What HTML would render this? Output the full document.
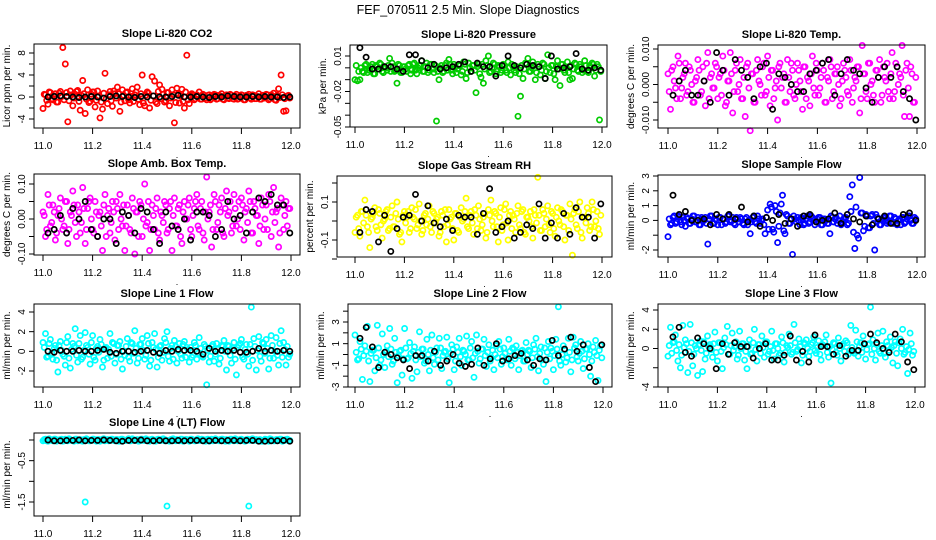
<!DOCTYPE html>
<html><head><meta charset="utf-8"><title>FEF_070511 2.5 Min. Slope Diagnostics</title>
<style>
html,body{margin:0;padding:0;background:#fff;}
svg{display:block;font-family:"Liberation Sans",Arial,sans-serif;}
</style></head>
<body>
<svg id="chart" width="936" height="540" viewBox="0 0 936 540" xmlns="http://www.w3.org/2000/svg">
<rect x="0" y="0" width="936" height="540" fill="#fff"/>
<text x="468" y="14" font-size="12.5" text-anchor="middle" fill="#000">FEF_070511  2.5 Min. Slope Diagnostics</text>
</svg>
<script>
// shared sample times (hours) for colored series
const times = [11.00,11.01,11.02,11.03,11.04,11.05,11.06,11.07,11.08,11.09,11.10,11.11,11.12,11.13,11.14,11.15,11.16,11.17,11.18,11.19,11.20,11.21,11.22,11.23,11.24,11.25,11.26,11.27,11.28,11.29,11.30,11.31,11.32,11.33,11.34,11.35,11.36,11.37,11.38,11.39,11.40,11.41,11.42,11.43,11.44,11.45,11.46,11.47,11.48,11.49,11.50,11.51,11.52,11.53,11.54,11.55,11.56,11.57,11.58,11.59,11.60,11.61,11.62,11.63,11.64,11.65,11.66,11.67,11.68,11.69,11.70,11.71,11.72,11.73,11.74,11.75,11.76,11.77,11.78,11.79,11.80,11.81,11.82,11.83,11.84,11.85,11.86,11.87,11.88,11.89,11.90,11.91,11.92,11.93,11.94,11.95,11.96,11.97,11.98,11.99];
// times for the dense core samples
const coreTimes = [11.005,11.015,11.025,11.035,11.045,11.055,11.065,11.075,11.085,11.095,11.105,11.115,11.125,11.135,11.145,11.155,11.165,11.175,11.185,11.195,11.205,11.215,11.225,11.235,11.245,11.255,11.265,11.275,11.285,11.295,11.305,11.315,11.325,11.335,11.345,11.355,11.365,11.375,11.385,11.395,11.405,11.415,11.425,11.435,11.445,11.455,11.465,11.475,11.485,11.495,11.505,11.515,11.525,11.535,11.545,11.555,11.565,11.575,11.585,11.595,11.605,11.615,11.625,11.635,11.645,11.655,11.665,11.675,11.685,11.695,11.705,11.715,11.725,11.735,11.745,11.755,11.765,11.775,11.785,11.795,11.805,11.815,11.825,11.835,11.845,11.855,11.865,11.875,11.885,11.895,11.905,11.915,11.925,11.935,11.945,11.955,11.965,11.975,11.985,11.995];
// times for black (2.5-min summary) series
const blackTimes = [11.02,11.045,11.07,11.095,11.12,11.145,11.17,11.195,11.22,11.245,11.27,11.295,11.32,11.345,11.37,11.395,11.42,11.445,11.47,11.495,11.52,11.545,11.57,11.595,11.62,11.645,11.67,11.695,11.72,11.745,11.77,11.795,11.82,11.845,11.87,11.895,11.92,11.945,11.97,11.995];

const co2Vals = [-2.1,0.4,-1.3,0.8,-0.5,0.6,-0.9,1.0,9.0,6.0,-4.5,1.1,-1.6,0.5,1.2,-2.4,3.0,-3.0,1.3,-0.8,0.9,-1.8,1.1,-3.8,-2.2,4.3,-1.2,1.0,-1.7,0.6,1.8,-2.6,1.3,-0.7,0.9,-1.1,1.5,0.4,1.8,-1.4,4.0,-1.6,0.9,-2.0,3.7,2.9,-1.2,2.2,1.4,-0.9,0.8,-1.6,1.3,-4.7,1.6,-1.1,1.4,-2.0,7.6,-1.2,0.6,-0.5,0.4,0.9,-0.4,0.3,-0.5,0.4,-0.3,0.5,-0.4,0.3,0.6,-0.5,0.4,-0.3,0.3,-0.4,0.5,-0.3,0.4,-0.5,0.3,0.5,-0.4,0.3,-0.3,0.6,-0.4,0.3,0.5,-0.5,0.4,0.7,-0.6,1.5,4.0,-2.6,-2.5,0.3];
const co2Core = [0.5,-0.6,0.9,-0.3,0.2,-0.9,0.7,0.1,-0.5,0.8,-0.7,0.4,-0.2,1.0,-0.8,0.3,0.6,-0.4,-1.0,0.5,0.9,-0.6,0.2,-0.9,0.7,-0.3,0.4,-0.7,1.1,-0.2,0.6,-0.9,0.3,0.8,-0.5,0.1,-0.8,0.9,-0.4,0.6,-1.1,0.3,0.7,-0.6,0.2,-0.9,1.0,-0.3,0.5,-0.7,0.8,-0.2,0.4,-1.0,0.6,0.2,-0.8,0.9,-0.5,0.3,0.4,-0.3,0.2,-0.4,0.5,-0.2,0.3,-0.5,0.1,0.4,-0.3,0.2,-0.4,0.3,-0.2,0.5,-0.3,0.2,-0.4,0.1,0.3,-0.5,0.2,-0.2,0.4,-0.3,0.1,-0.4,0.3,-0.2,0.4,-0.3,0.2,-0.5,0.3,-0.1,0.4,-0.3,0.2,-0.2];
const co2Black = [0,0.1,0.2,0.1,0,-0.1,0,0.1,0,-0.2,0.1,0.2,0.1,0,-0.1,0.1,0,0.2,0,0,0.1,0.3,0,0,0.1,0,-0.1,0.1,0,0.2,0.1,0,0,0.1,0,0.1,0,0,-0.1,0];

const presVals = [-0.010,-0.011,-0.010,-0.003,0.002,-0.004,-0.002,0.003,-0.005,0.001,0.004,-0.003,0.001,-0.002,0.008,0.004,-0.003,-0.013,0.002,-0.004,0.001,-0.003,0.003,-0.002,0.004,-0.005,0.002,0.006,-0.003,0.004,-0.002,0.003,-0.004,-0.045,-0.010,0.002,-0.003,0.004,0.007,-0.002,0.003,-0.004,0.002,-0.006,0.005,-0.009,0.004,-0.003,0.002,-0.021,0.003,-0.008,-0.013,0.006,0.010,-0.003,0.004,-0.005,0.002,-0.004,0.003,-0.002,0.005,-0.006,0.001,-0.004,-0.041,-0.024,-0.009,0.004,0.008,-0.003,0.005,-0.010,0.003,-0.006,0.004,-0.009,0.011,-0.004,0.002,-0.010,0.006,-0.015,0.003,-0.004,0.005,-0.010,-0.009,0.004,-0.002,0.003,-0.004,0.006,-0.003,0.002,0.004,-0.007,0.003,-0.044];
const presCore = [0.002,-0.003,0.000,-0.004,0.003,-0.002,0.001,-0.005,0.002,-0.001,0.003,-0.004,0.000,0.002,-0.003,0.001,-0.002,0.003,-0.004,0.001,-0.001,0.002,-0.005,0.003,-0.002,0.000,0.002,-0.003,0.001,-0.004,0.003,-0.001,0.002,-0.003,0.000,-0.004,0.002,-0.002,0.003,-0.005,0.001,-0.001,0.002,-0.003,0.003,-0.004,0.000,0.002,-0.002,0.001,-0.005,0.003,-0.001,0.002,-0.004,0.000,0.003,-0.003,0.001,-0.002,0.002,-0.004,0.000,0.003,-0.002,0.001,-0.005,0.002,-0.001,0.003,-0.003,0.000,0.002,-0.004,0.001,-0.002,0.003,-0.003,0.000,0.002,-0.005,0.001,-0.001,0.003,-0.002,0.000,-0.004,0.002,-0.001,0.003,-0.003,0.001,-0.002,0.002,-0.004,0.000,0.003,-0.002,0.001,-0.003];
const presBlack = [0.017,0.009,-0.001,-0.001,0.001,0.001,-0.001,-0.003,0.011,0.011,0.006,0,0.003,-0.001,0,0.001,0.003,0.005,-0.003,0.004,0.001,0.001,-0.007,0.002,0.010,0.002,0,0.003,0.002,0.001,-0.009,0.010,-0.001,0,0.001,0.012,-0.001,-0.002,0,-0.002];

const tempVals = [0.003,-0.007,0.005,-0.001,0.008,-0.004,0.002,0.006,-0.002,0.004,-0.005,0.001,0.007,-0.003,0.005,-0.006,0.009,0.002,-0.001,0.006,-0.004,0.003,0.008,-0.006,0.001,0.009,-0.008,0.004,-0.002,0.007,-0.004,-0.009,0.006,-0.013,0.003,-0.005,0.007,0.000,0.005,-0.003,0.008,-0.006,0.004,-0.001,-0.010,0.006,0.002,-0.005,0.007,-0.002,0.004,-0.004,0.006,0.001,-0.007,0.005,0.002,-0.006,0.008,-0.003,0.004,-0.001,0.006,-0.005,0.002,0.007,-0.004,0.003,0.005,-0.006,0.001,0.004,-0.002,0.007,-0.005,0.002,0.005,-0.008,0.011,0.003,-0.004,0.006,0.001,-0.005,0.004,0.007,-0.003,0.002,0.006,-0.004,0.009,-0.002,0.005,0.003,0.011,-0.009,0.006,-0.009,0.003,-0.005];
const tempCore = [-0.002,0.004,0.001,-0.004,0.006,-0.001,0.003,-0.003,0.005,0.000,-0.005,0.002,0.004,-0.002,0.001,0.006,-0.004,0.003,-0.001,0.005,0.002,-0.003,0.004,-0.005,0.001,0.003,-0.002,0.006,0.000,-0.004,0.002,0.005,-0.001,0.003,-0.005,0.004,0.001,-0.003,0.006,-0.002,0.002,0.004,-0.004,0.001,0.005,-0.001,0.003,-0.005,0.002,0.006,-0.003,0.000,0.004,-0.002,0.005,-0.004,0.001,0.003,-0.001,0.006,-0.003,0.002,0.004,-0.005,0.001,0.005,-0.002,0.003,0.000,-0.004,0.006,0.002,-0.003,0.004,-0.001,0.001,0.005,-0.004,0.003,-0.002,0.006,0.000,-0.003,0.004,0.002,-0.005,0.005,0.001,-0.002,0.003,-0.004,0.006,0.000,0.002,-0.003,0.004,-0.001,0.005,-0.005,0.002];
const tempBlack = [-0.003,0.001,0.004,-0.003,-0.003,0.001,-0.005,0.009,0.004,-0.003,0.007,0.004,0.002,-0.004,0.005,0.006,-0.007,0.003,0.002,0.000,-0.002,-0.002,0.003,0.004,0.006,0.007,-0.003,0.003,0.007,0.004,0.003,-0.001,-0.005,0.002,0.005,0.002,0.005,-0.002,-0.004,-0.010];

const ambVals = [0.02,-0.05,0.07,-0.02,0.04,-0.06,0.01,0.06,-0.03,0.05,-0.07,0.02,0.08,-0.01,0.04,-0.04,0.09,-0.07,0.03,0.06,-0.03,0.05,-0.05,0.02,-0.09,0.07,0.01,-0.04,0.05,-0.06,0.03,0.07,-0.02,-0.09,0.04,-0.03,0.06,-0.10,0.02,0.05,-0.05,0.10,-0.01,-0.09,0.04,-0.03,0.06,-0.06,0.01,0.05,-0.04,0.03,-0.09,0.06,-0.02,0.04,-0.07,0.05,0.00,0.06,-0.05,0.03,0.07,-0.03,0.05,-0.06,0.12,0.02,-0.08,0.07,-0.03,0.04,0.06,-0.05,0.08,0.02,-0.04,0.07,-0.02,0.05,0.06,-0.06,0.03,0.08,-0.04,0.05,0.01,-0.07,0.06,-0.03,0.04,0.07,-0.05,0.09,0.02,-0.08,0.06,-0.03,0.05,0.03];
const ambCore = [0.01,-0.03,0.04,-0.01,0.02,-0.04,0.03,0.00,-0.02,0.05,-0.03,0.01,0.04,-0.05,0.02,-0.01,0.03,-0.03,0.05,0.00,-0.04,0.02,0.01,-0.02,0.04,-0.05,0.03,-0.01,0.02,0.05,-0.03,0.00,0.04,-0.02,0.01,-0.04,0.03,0.02,-0.05,0.04,0.00,-0.02,0.05,-0.03,0.01,0.03,-0.04,0.02,-0.01,0.04,-0.03,0.05,0.01,-0.02,0.03,-0.05,0.02,0.00,0.04,-0.03,0.01,0.05,-0.02,0.03,-0.04,0.02,0.00,0.04,-0.03,0.05,-0.01,0.02,-0.04,0.03,0.01,0.05,-0.02,0.03,0.00,-0.03,0.04,0.02,-0.01,0.05,-0.04,0.03,0.01,-0.02,0.04,0.00,-0.03,0.05,0.02,-0.01,0.03,-0.04,0.04,0.01,-0.02,0.03];
const ambBlack = [-0.04,-0.03,0.01,-0.04,0.03,0.00,0.05,-0.03,-0.05,0.00,0.00,-0.07,0.02,0.01,-0.04,0.03,0.02,-0.03,-0.07,0.02,-0.02,-0.03,0.00,-0.06,0.02,0.02,0.01,-0.05,-0.03,0.05,0.00,0.01,-0.04,0.02,0.06,0.05,0.07,0.04,0.04,-0.04];

const rhVals = [-0.06,0.03,-0.08,0.05,0.11,-0.03,-0.14,0.02,0.07,-0.05,0.04,-0.09,0.01,0.06,-0.04,0.08,-0.03,0.10,-0.07,-0.11,0.05,0.02,-0.06,0.07,0.01,-0.04,0.09,-0.07,0.03,-0.02,0.08,-0.06,0.04,0.01,-0.08,0.05,-0.03,-0.11,0.06,0.02,-0.10,0.04,-0.06,0.07,0.01,0.12,-0.04,0.05,-0.07,0.03,0.08,-0.05,0.02,-0.09,0.06,0.11,-0.03,0.04,-0.11,0.07,-0.02,0.09,-0.10,0.05,0.03,-0.06,0.08,-0.04,0.06,-0.07,0.02,0.05,-0.09,0.03,0.23,-0.05,0.06,-0.03,0.08,-0.06,0.04,-0.08,0.07,-0.02,0.05,-0.10,0.03,0.09,-0.18,0.06,-0.04,0.10,-0.09,0.02,0.07,-0.05,0.10,-0.03,0.05,-0.07];
const rhCore = [0.02,-0.04,0.05,-0.01,0.03,-0.06,0.01,0.04,-0.03,0.06,-0.02,0.00,0.05,-0.05,0.02,-0.03,0.04,0.01,-0.06,0.03,-0.01,0.05,-0.04,0.02,0.06,-0.02,0.00,-0.05,0.04,0.01,-0.03,0.05,-0.01,0.02,-0.06,0.03,0.06,-0.02,0.01,-0.04,0.04,-0.05,0.02,0.00,0.05,-0.03,0.03,-0.01,0.06,-0.04,0.01,-0.02,0.04,-0.06,0.03,0.00,0.05,-0.03,0.02,-0.05,0.06,-0.01,0.03,-0.04,0.01,0.04,-0.02,0.05,-0.06,0.02,0.00,-0.03,0.06,-0.01,0.03,-0.05,0.04,0.01,-0.02,0.05,-0.04,0.02,0.00,0.06,-0.03,0.03,-0.05,0.01,0.04,-0.02,0.05,-0.06,0.02,-0.01,0.04,-0.03,0.06,0.00,-0.04,0.03];
const rhBlack = [-0.06,0.06,0.05,-0.11,0.03,-0.16,-0.04,0.02,0.03,0.14,0.00,0.08,-0.01,-0.03,0.01,-0.05,0.03,0.02,0.02,-0.07,0.04,0.17,-0.06,-0.03,0.00,-0.09,-0.06,-0.02,-0.04,0.09,-0.09,-0.01,-0.09,0.04,-0.07,0.07,0.02,0.02,-0.09,0.09];

const sampVals = [-1.1,-0.3,0.2,-0.2,0.3,-0.1,0.2,-0.4,0.1,-0.2,0.3,-0.1,0.2,-0.3,0.1,0.2,-1.6,0.3,-0.2,0.1,-0.3,0.2,0.1,-0.2,0.3,-0.1,0.2,-0.3,0.1,0.2,-0.2,0.1,-0.3,-0.9,0.2,-0.1,0.3,-0.2,0.1,-0.9,0.7,1.1,-0.6,1.0,-1.5,0.5,1.7,-0.9,0.3,-0.2,-2.3,0.1,0.2,-0.3,0.1,-0.2,0.3,-0.1,0.2,-0.3,0.1,0.2,-0.3,0.1,-0.2,-0.9,0.2,0.1,-0.2,0.3,-0.1,0.2,-0.3,1.6,2.4,-1.9,-1.0,2.9,0.5,-0.4,0.3,-0.5,0.4,-2.0,0.2,-0.3,0.1,0.2,-0.2,0.3,-0.1,0.2,-0.3,0.1,0.2,-0.2,0.1,0.3,-0.2,0.2];
const sampCore = [0.1,-0.2,0.3,-0.1,0.2,-0.3,0.0,0.2,-0.2,0.1,0.3,-0.1,-0.3,0.2,0.0,-0.2,0.1,0.3,-0.2,0.0,0.2,-0.3,0.1,-0.1,0.3,0.0,-0.2,0.2,-0.1,0.1,-0.3,0.2,0.0,-0.1,0.3,-0.2,0.1,0.0,-0.3,0.2,-0.6,0.9,-0.8,0.6,-0.4,1.1,-0.7,0.4,-0.2,0.1,0.3,-0.1,0.0,0.2,-0.3,0.1,-0.2,0.3,0.0,-0.1,0.2,-0.3,0.1,0.0,-0.2,0.3,-0.1,0.2,0.0,-0.3,0.1,0.2,-0.2,0.6,-0.8,0.9,-1.2,0.5,-0.7,0.4,-0.5,0.3,-0.2,0.4,0.1,-0.3,0.2,0.0,-0.1,0.3,-0.2,0.1,0.0,-0.3,0.2,-0.1,0.3,0.0,-0.2,0.1];
const sampBlack = [1.7,0.4,0.6,0.0,0.0,0.1,-0.3,0.4,0.1,0.4,0.1,0.9,-0.1,0.3,-0.4,0.2,0.0,0.4,-0.2,0.1,-0.4,0.3,0.4,-0.1,0.0,0.1,0.5,-0.2,0.4,0.1,-0.1,0.3,-0.3,0.1,0.3,-0.2,-0.2,0.4,0.5,0.0];

const line1Vals = [0.9,1.8,-0.5,1.2,-0.8,0.6,-2.1,1.0,-0.3,-1.4,1.5,-1.7,0.8,2.3,-1.1,1.6,-0.6,1.9,0.4,-1.3,1.6,-0.9,0.5,1.2,-1.6,0.3,-0.7,1.8,0.9,-1.2,0.6,1.0,-1.8,-0.4,1.3,-1.0,0.8,2.1,-1.2,0.7,1.3,-0.8,1.6,-1.5,0.9,1.8,-1.6,0.5,-0.9,1.3,2.0,-1.0,0.6,1.1,-1.2,0.8,-0.7,1.0,0.4,-1.1,-0.6,0.9,-0.8,1.4,-0.5,0.7,-3.4,-1.1,0.5,-1.0,0.8,-1.3,0.6,1.1,-1.9,0.5,-1.2,0.9,-2.4,0.6,1.2,-0.8,0.7,-1.5,4.5,1.3,-1.9,1.5,-1.0,0.8,1.2,-1.8,1.6,-0.7,1.4,-1.4,2.1,0.9,-1.4,-0.6];
const line1Core = [0.4,-0.6,0.8,-0.2,0.3,-0.9,0.6,0.1,-0.5,0.9,-0.7,0.2,0.5,-0.4,0.8,-0.8,0.1,0.6,-0.3,0.9,-0.6,0.3,-0.1,0.7,-0.9,0.4,0.2,-0.5,0.8,-0.3,0.6,-0.8,0.0,0.5,-0.6,0.9,-0.2,0.3,-0.7,0.7,0.1,-0.4,0.8,-0.9,0.4,0.2,-0.6,0.6,-0.1,0.9,-0.5,0.3,-0.8,0.5,0.0,-0.3,0.7,-0.6,0.2,0.4,-0.4,0.6,-0.2,0.3,-0.6,0.5,0.1,-0.5,0.7,-0.3,0.2,-0.7,0.5,0.0,0.6,-0.4,0.3,-0.8,0.4,0.8,-0.6,0.2,-0.3,0.7,-0.9,0.5,0.1,-0.5,0.9,-0.2,0.3,-0.7,0.6,0.0,-0.4,0.8,-0.6,0.2,0.5,-0.3];
const line1Black = [0,-0.1,0.1,0,0,0.1,0,0,0.1,0.2,-0.1,-0.2,0,0,-0.1,0,0.1,-0.1,-0.2,0.1,0,0.2,0.1,0.1,0,-0.3,0.3,0,0.1,0,0.1,-0.1,-0.1,0,0.3,0,0.1,0,0.1,0];

const line2Vals = [1.8,-0.5,1.2,-2.3,0.8,2.6,-2.5,0.4,-1.5,2.7,-1.0,1.9,-1.2,0.8,2.4,-0.9,1.5,-2.6,0.3,-1.9,2.4,-0.4,1.1,-2.2,0.7,-1.6,2.1,0.5,-0.8,1.4,-1.5,1.8,-0.9,0.6,1.5,-1.3,0.2,1.6,-2.6,0.9,-1.4,0.7,1.5,-1.0,0.3,1.7,-0.5,1.2,-2.1,1.8,-0.8,0.5,1.4,-1.1,0.9,-0.3,-1.4,0.8,1.2,-0.9,0.6,-0.4,1.4,-1.0,0.5,0.8,-1.4,0.3,-0.6,1.1,0.4,-1.2,0.9,1.5,-1.5,0.7,-0.9,-2.5,1.2,0.6,-1.4,1.4,4.4,-1.0,0.8,-0.7,1.5,-1.6,1.6,0.9,-0.6,1.2,-1.3,0.5,1.0,-2.0,0.7,1.3,-2.4,0.8];
const line2Core = [0.2,-0.4,0.5,-0.1,0.3,-0.6,0.1,0.4,-0.3,0.6,-0.5,0.0,0.3,-0.2,0.5,-0.6,0.2,-0.1,0.4,-0.4,0.6,-0.3,0.1,0.3,-0.5,0.2,-0.2,0.5,-0.6,0.0,0.4,-0.3,0.2,-0.5,0.6,-0.1,0.3,-0.4,0.1,0.5,-0.6,0.2,-0.2,0.4,0.0,-0.5,0.6,-0.3,0.1,0.3,-0.4,0.5,-0.1,0.2,-0.6,0.4,0.0,-0.3,0.5,-0.2,0.1,-0.5,0.3,0.6,-0.4,0.2,-0.1,0.4,-0.6,0.0,0.3,-0.3,0.5,-0.2,0.1,-0.5,0.6,0.2,-0.4,0.3,-0.1,0.5,-0.6,0.0,0.4,-0.3,0.2,-0.5,0.6,-0.2,0.1,0.3,-0.4,0.5,0.0,-0.6,0.2,-0.1,0.4,-0.3];
const line2Black = [1.5,2.5,0.7,-1.2,0.2,0,-0.3,-0.5,-1.3,-0.1,-0.1,-0.6,0.3,-1.0,-0.6,0.0,-0.8,-1.1,-0.9,0.6,-1.0,-0.4,1.0,-0.6,-0.4,-0.1,0.1,-0.5,-1.0,-0.4,-0.5,1.3,-0.1,0.5,1.6,0.3,0.9,-1.2,-2.5,0.9];

const line3Vals = [-0.8,2.2,0.6,1.4,-1.3,-2.0,2.4,0.9,-2.5,2.5,-1.8,0.3,-2.8,0.8,-2.4,-1.1,1.3,0.4,-0.9,1.7,-1.3,0.6,-2.1,1.1,2.3,-0.6,1.6,0.2,-1.1,1.8,0.5,-1.2,-2.1,0.9,-0.5,2.0,-1.3,0.4,1.3,-0.9,0.7,-0.3,1.8,-1.1,0.5,-0.7,1.2,-1.4,0.3,1.5,-0.6,2.5,-0.3,1.0,-1.5,0.6,0.9,-0.8,0.4,1.2,-0.5,0.8,-1.2,0.3,1.4,-0.9,-3.6,0.6,-0.4,1.1,-1.3,0.5,0.8,-0.6,2.4,-0.3,1.9,-0.8,0.6,1.3,-1.1,0.4,4.3,0.9,-1.2,1.6,-0.5,1.8,-0.9,0.3,1.2,-1.5,0.7,-1.8,1.0,2.0,-0.4,-2.6,1.6,-0.7];
const line3Core = [0.3,-0.5,0.7,-0.2,0.4,-0.7,0.1,0.5,-0.3,0.6,-0.6,0.0,0.4,-0.2,0.7,-0.5,0.2,-0.1,0.5,-0.4,0.6,-0.3,0.1,0.4,-0.6,0.3,-0.2,0.7,-0.7,0.0,0.5,-0.3,0.2,-0.6,0.6,-0.1,0.4,-0.5,0.1,0.7,-0.6,0.2,-0.2,0.5,0.0,-0.5,0.6,-0.4,0.1,0.3,-0.4,0.6,-0.1,0.2,-0.7,0.5,0.0,-0.3,0.6,-0.2,0.1,-0.6,0.4,0.7,-0.4,0.2,-0.1,0.5,-0.7,0.0,0.3,-0.3,0.6,-0.2,0.1,-0.5,0.7,0.2,-0.4,0.4,-0.1,0.5,-0.6,0.0,0.4,-0.3,0.3,-0.5,0.7,-0.2,0.1,0.3,-0.5,0.6,0.0,-0.6,0.2,-0.1,0.5,-0.3];
const line3Black = [1.2,2.2,-0.4,-0.8,1.1,0.5,0.0,-2.1,0.5,-0.6,0.6,0.2,0.2,-1.0,0.0,0.5,-1.2,-1.2,-0.7,1.3,-1.2,-0.3,-1.4,1.4,0.2,0.2,-0.6,0.3,-0.8,-0.2,-0.2,0.5,1.5,0.6,0.0,-0.4,1.5,0.7,-1.4,-2.2];

const line4Vals = [-0.02,0.02,-0.03,0.01,-0.02,0.02,-0.01,0.01,-0.03,0.02,-0.02,0.01,-0.01,0.02,-0.02,0.01,-0.03,-1.5,0.01,-0.02,0.02,-0.01,0.01,-0.03,0.02,-0.02,0.01,-0.01,0.02,-0.02,0.01,-0.03,0.02,-0.01,0.01,-0.02,0.03,-0.01,0.01,-0.02,0.02,-0.01,0.01,-0.03,0.02,-0.02,0.01,-0.01,0.02,-0.02,-1.6,-0.03,0.02,-0.01,0.01,-0.02,0.02,-0.01,0.01,-0.03,0.02,-0.02,0.01,-0.01,0.02,-0.02,0.01,-0.03,0.02,-0.01,0.01,-0.02,0.02,-0.01,0.01,-0.03,0.02,-0.02,0.01,-0.01,0.02,-0.02,0.01,-1.6,0.02,-0.01,0.01,-0.02,-0.03,-0.01,0.01,-0.03,0.02,-0.02,0.01,-0.01,0.02,-0.02,0.01,-0.02];
const line4Core = [0.01,-0.02,0.03,-0.01,0.02,-0.03,0.00,0.02,-0.02,0.01,0.03,-0.01,-0.03,0.02,0.00,-0.02,0.01,0.03,-0.02,0.00,0.02,-0.03,0.01,-0.01,0.03,0.00,-0.02,0.02,-0.01,0.01,-0.03,0.02,0.00,-0.01,0.03,-0.02,0.01,0.00,-0.03,0.02,-0.01,0.03,-0.02,0.01,0.00,-0.03,0.02,-0.01,0.03,0.00,-0.02,0.01,0.03,-0.02,0.00,0.02,-0.03,0.01,-0.01,0.02,0.00,-0.02,0.03,-0.01,0.01,-0.03,0.02,0.00,-0.02,0.03,-0.01,0.01,0.02,-0.03,0.00,0.02,-0.01,0.03,-0.02,0.01,0.00,-0.03,0.02,-0.01,0.03,0.00,-0.02,0.01,-0.03,0.02,-0.01,0.03,0.00,-0.02,0.01,0.02,-0.03,0.00,0.02,-0.01];
const line4Black = [0.00,-0.02,-0.02,-0.01,-0.01,0.00,-0.02,-0.01,-0.01,0.00,-0.01,-0.02,-0.03,-0.01,-0.01,0.00,-0.02,-0.02,-0.01,-0.02,-0.02,-0.01,-0.02,-0.01,-0.01,-0.02,-0.02,-0.01,-0.02,-0.01,-0.01,-0.02,-0.01,-0.01,-0.03,-0.03,-0.02,-0.02,-0.01,-0.03];

const tickX = [11.0,11.2,11.4,11.6,11.8,12.0];
const tickXLabels = ["11.0","11.2","11.4","11.6","11.8","12.0"];

// panel layout configuration (positions/styles only)
const panels = [
 {key:"co2",title:"Slope Li-820 CO2",ylab:"Licor ppm per min.",color:"#ff0000",vals:co2Vals,core:co2Core,black:co2Black,box:[34,300,44,128],xp:[43,291],cal:[[0,97],[8,53]],yt:[-4,-2,0,2,4,6,8],yl:[[-4,"-4"],[0,"0"],[4,"4"],[8,"8"]]},
 {key:"pressure",title:"Slope Li-820 Pressure",ylab:"kPa per min.",color:"#00cc00",vals:presVals,core:presCore,black:presBlack,box:[350,607,45,127],xp:[355,602],cal:[[0.01,56],[-0.05,127]],yt:[-0.05,-0.04,-0.03,-0.02,-0.01,0,0.01],yl:[[0.01,"0.01"],[-0.02,"-0.02"],[-0.05,"-0.05"]]},
 {key:"temp",title:"Slope Li-820 Temp.",ylab:"degrees C per min.",color:"#ff00ff",vals:tempVals,core:tempCore,black:tempBlack,box:[658,925,45,128],xp:[668,917],cal:[[0.01,49],[-0.01,120]],yt:[-0.01,-0.005,0,0.005,0.01],yl:[[0.01,"0.010"],[0,"0.000"],[-0.01,"-0.010"]]},
 {key:"ambbox",title:"Slope Amb. Box Temp.",ylab:"degrees C per min.",color:"#ff00ff",vals:ambVals,core:ambCore,black:ambBlack,box:[34,300,174,255],xp:[43,291],cal:[[0.1,184],[-0.1,254]],yt:[-0.1,-0.05,0,0.05,0.1],yl:[[0.1,"0.10"],[0,"0.00"],[-0.1,"-0.10"]]},
 {key:"rh",title:"Slope Gas Stream RH",ylab:"percent per min.",color:"#ffff00",vals:rhVals,core:rhCore,black:rhBlack,box:[337,612,176,257],xp:[355,602],cal:[[0.1,202],[-0.1,240]],yt:[-0.2,-0.1,0,0.1,0.2],yl:[[0.1,"0.1"],[-0.1,"-0.1"]]},
 {key:"sampleflow",title:"Slope Sample Flow",ylab:"ml/min per min.",color:"#0000ff",vals:sampVals,core:sampCore,black:sampBlack,box:[658,925,175,257],xp:[668,917],cal:[[3,176],[-2,250]],yt:[-2,-1,0,1,2,3],yl:[[3,"3"],[2,"2"],[1,"1"],[0,"0"],[-2,"-2"]]},
 {key:"line1",title:"Slope Line 1 Flow",ylab:"ml/min per min.",color:"#00ffff",vals:line1Vals,core:line1Core,black:line1Black,box:[34,300,304,387],xp:[43,291],cal:[[4,312],[-2,371]],yt:[-2,0,2,4],yl:[[4,"4"],[2,"2"],[0,"0"],[-2,"-2"]]},
 {key:"line2",title:"Slope Line 2 Flow",ylab:"ml/min per min.",color:"#00ffff",vals:line2Vals,core:line2Core,black:line2Black,box:[348,612,304,387],xp:[355,603],cal:[[3,322],[-3,387]],yt:[-3,-2,-1,0,1,2,3,4],yl:[[3,"3"],[1,"1"],[-1,"-1"],[-3,"-3"]]},
 {key:"line3",title:"Slope Line 3 Flow",ylab:"ml/min per min.",color:"#00ffff",vals:line3Vals,core:line3Core,black:line3Black,box:[658,925,304,387],xp:[668,915],cal:[[4,310],[-4,387]],yt:[-4,-2,0,2,4],yl:[[4,"4"],[2,"2"],[0,"0"],[-4,"-4"]]},
 {key:"line4",title:"Slope Line 4 (LT) Flow",ylab:"ml/min per min.",color:"#00ffff",vals:line4Vals,core:line4Core,black:line4Black,box:[34,300,433,516],xp:[43,291],cal:[[0,440],[-1.5,502]],yt:[-1.5,-1,-0.5,0],yl:[[-0.5,"-0.5"],[-1.5,"-1.5"]]}
];

const NS = "http://www.w3.org/2000/svg";
const svg = document.getElementById("chart");
function mk(tag, attrs, parent){ const e=document.createElementNS(NS,tag); for(const k in attrs) e.setAttribute(k,attrs[k]); parent.appendChild(e); return e; }

panels.forEach(p=>{
  const [L,R,T,B]=p.box;
  const xScale = v => p.xp[0] + (v-11.0)*(p.xp[1]-p.xp[0]);
  const [[v1,p1],[v2,p2]] = p.cal;
  const yScale = v => p1 + (v-v1)*(p2-p1)/(v2-v1);
  const g = mk("g",{},svg);
  
  

  const title = mk("text",{x:(L+R)/2,y:T-7,"font-size":"11","font-weight":"bold","text-anchor":"middle",fill:"#000"},g);
  title.textContent = p.title;
  
  

  // colored points (core + spread)
  const cg = mk("g",{fill:"none",stroke:p.color,"stroke-width":"1.7"},g);
  
  
  p.core.forEach((v,i)=>{
    const c = mk("circle",{cx:xScale(coreTimes[i]).toFixed(1),cy:yScale(v).toFixed(1),r:"2.6"},cg);
    
    
  });
  p.vals.forEach((v,i)=>{
    const c = mk("circle",{cx:xScale(times[i]).toFixed(1),cy:yScale(v).toFixed(1),r:"2.6"},cg);
    
    
  });
  // black points
  const bg = mk("g",{fill:"none",stroke:"#000","stroke-width":"1.7"},g);
  
  
  p.black.forEach((v,i)=>{
    const c = mk("circle",{cx:xScale(blackTimes[i]).toFixed(1),cy:yScale(v).toFixed(1),r:"2.6"},bg);
    
    
  });

  // box
  const box = mk("rect",{x:L,y:T,width:R-L,height:B-T,fill:"none",stroke:"#000","stroke-width":"1"},g);
  
  

  // x axis
  const xa = mk("g",{stroke:"#000","stroke-width":"1"},g);
  
  
  tickX.forEach((t,i)=>{
    const x=xScale(t);
    mk("line",{x1:x,x2:x,y1:B,y2:B+6},xa);
    const tl = mk("text",{x:x,y:B+21,"font-size":"10","text-anchor":"middle",fill:"#000",stroke:"none"},g);
    tl.textContent = tickXLabels[i];
    
    
  });
  const dot = mk("text",{x:(L+R)/2+10,y:B+30,"font-size":"9","text-anchor":"middle",fill:"#000"},g);
  dot.textContent=".";
  
  

  // y axis
  const ya = mk("g",{stroke:"#000","stroke-width":"1"},g);
  
  
  p.yt.forEach(t=>{ const y=yScale(t); mk("line",{x1:L-5,x2:L,y1:y,y2:y},ya); });
  p.yl.forEach(([v,s])=>{
    const y=yScale(v), x=L-9;
    const tl = mk("text",{x:x,y:y,"font-size":"10","text-anchor":"middle",fill:"#000",transform:`rotate(-90 ${x} ${y})`},g);
    tl.textContent = s;
    
    
  });
  const yx=L-24, yy=(T+B)/2;
  const yt = mk("text",{x:yx,y:yy,"font-size":"10","text-anchor":"middle",fill:"#000",transform:`rotate(-90 ${yx} ${yy})`},g);
  yt.textContent = p.ylab;
  
  
});
</script>
</body></html>
